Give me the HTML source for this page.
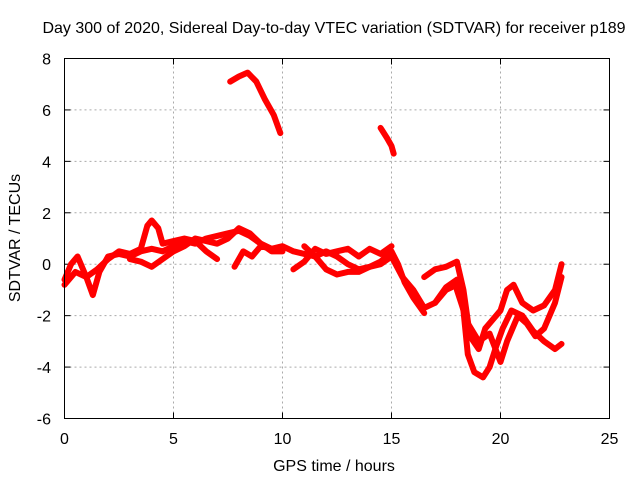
<!DOCTYPE html>
<html><head><meta charset="utf-8"><style>
body{margin:0;background:#fff;}
svg{display:block;font-family:"Liberation Sans",sans-serif;}
</style></head><body>
<svg id="chart" width="640" height="480">
<text x="334" y="33" font-size="16" text-anchor="middle">Day 300 of 2020, Sidereal Day-to-day VTEC variation (SDTVAR) for receiver p189</text>
<text x="334" y="471" font-size="16" text-anchor="middle">GPS time / hours</text>
<text transform="translate(20,238) rotate(-90)" font-size="16" text-anchor="middle">SDTVAR / TECUs</text>
<g id="grid"></g><g id="ticks"></g><g id="series"></g>
<rect x="64.5" y="58.5" width="545" height="360" fill="none" stroke="#000"/>
</svg>
<script>
const xTicks=[0,5,10,15,20,25];
const yTicks=[-6,-4,-2,0,2,4,6,8];
const trackA=[[0,-0.6],[0.3,0],[0.6,0.3],[1,-0.5],[1.3,-1.2],[1.6,-0.3],[2,0.3],[2.5,0.4],[3,0.3],[3.5,0.5],[4,0.6],[4.5,0.5],[5,0.7],[5.5,0.9],[6,0.8],[6.5,1.0],[7,1.1],[7.5,1.2],[8,1.3],[8.5,1.1],[9,0.8],[9.5,0.6],[10,0.6]];
const trackB=[[0,-0.8],[0.5,-0.3],[1,-0.5],[1.5,-0.2],[2,0.2],[2.5,0.5],[3,0.4],[3.5,0.6],[3.8,1.5],[4,1.7],[4.3,1.4],[4.5,0.8],[5,0.9],[5.5,1.0],[6,0.9],[6.5,0.5],[7,0.2]];
const trackC=[[3,0.2],[3.5,0.1],[4,-0.1],[4.5,0.2],[5,0.5],[5.5,0.7],[6,1.0],[6.5,0.9],[7,0.8],[7.5,1.0],[8,1.4],[8.5,1.2],[9,0.8],[9.5,0.5],[10,0.5]];
const trackD=[[7.8,-0.1],[8.2,0.5],[8.6,0.3],[9,0.7],[9.5,0.6],[10,0.7],[10.5,0.5],[11,0.4],[11.5,0.3],[12,0.5],[12.5,0.3],[13,0.0],[13.5,-0.2],[14,-0.1],[14.5,0.1],[15,0.5],[15.3,0.0],[15.6,-0.7],[16,-1.3],[16.5,-1.9]];
const trackE=[[10.5,-0.2],[11,0.1],[11.5,0.6],[12,0.4],[12.5,0.5],[13,0.6],[13.5,0.3],[14,0.6],[14.5,0.4],[15,0.7]];
const trackF=[[11,0.7],[11.5,0.3],[12,-0.2],[12.5,-0.4],[13,-0.3],[13.5,-0.3],[14,-0.1],[14.5,0.0],[15,0.3],[15.5,-0.5],[16,-1.0],[16.5,-1.7],[17,-1.5],[17.5,-1.0],[18,-0.8]];
const trackG=[[16.5,-0.5],[17,-0.2],[17.5,-0.1],[18,0.1],[18.3,-1.0],[18.6,-2.8],[19,-3.3],[19.3,-2.5],[19.6,-2.2],[20,-1.8],[20.3,-1.0],[20.6,-0.8],[21,-1.5],[21.5,-1.8],[22,-1.6],[22.5,-1.0],[22.8,0]];
const trackH=[[17,-1.5],[17.5,-0.9],[18,-0.6],[18.3,-1.8],[18.5,-3.5],[18.8,-4.2],[19.2,-4.4],[19.5,-4.0],[19.8,-3.2],[20.1,-2.5],[20.5,-1.8],[21,-2.0],[21.5,-2.6],[22,-3.0],[22.5,-3.3],[22.8,-3.1]];
const trackI=[[18,-1.0],[18.5,-2.3],[19,-3.0],[19.5,-2.7],[20,-3.8],[20.3,-3.0],[20.8,-2.0],[21.2,-2.3],[21.6,-2.8],[22,-2.5],[22.5,-1.5],[22.8,-0.5]];
const trackJ=[[7.6,7.1],[8,7.3],[8.4,7.45],[8.8,7.1],[9.2,6.4],[9.6,5.8],[9.9,5.1]];
const trackK=[[14.5,5.3],[14.8,4.9],[15,4.6],[15.1,4.3]];
const tracks=[trackA,trackB,trackC,trackD,trackE,trackF,trackG,trackH,trackI,trackJ,trackK];
const X0=64.5,X1=609.5,Y0=418.5,Y1=58.5;
const xs=v=>X0+(v-0)/(25-0)*(X1-X0);
const ys=v=>Y0-(v+6)/14*(Y0-Y1);
const NS='http://www.w3.org/2000/svg';
const grid=document.getElementById('grid'),ticks=document.getElementById('ticks'),ser=document.getElementById('series');
function mk(tag,attrs,parent){const e=document.createElementNS(NS,tag);for(const k in attrs)e.setAttribute(k,attrs[k]);parent.appendChild(e);return e;}
xTicks.forEach(t=>{const x=xs(t);
 if(t>0&&t<25){const g=mk('line',{x1:x,x2:x,y1:Y0,y2:Y1,stroke:'#aaa','stroke-dasharray':'2,3'},grid);
 
 }
 mk('line',{x1:x,x2:x,y1:Y0,y2:Y0-6,stroke:'#000'},ticks);mk('line',{x1:x,x2:x,y1:Y1,y2:Y1+6,stroke:'#000'},ticks);
 const l=mk('text',{x:x,y:444,'font-size':16,'text-anchor':'middle'},ticks);l.textContent=t;
 
 });
yTicks.forEach(t=>{const y=ys(t);
 if(t>-6&&t<8){const g=mk('line',{x1:X0,x2:X1,y1:y,y2:y,stroke:'#aaa','stroke-dasharray':'2,3'},grid);
 
 }
 mk('line',{x1:X0,x2:X0+6,y1:y,y2:y,stroke:'#000'},ticks);mk('line',{x1:X1,x2:X1-6,y1:y,y2:y,stroke:'#000'},ticks);
 const l=mk('text',{x:51,y:y+6,'font-size':16,'text-anchor':'end'},ticks);l.textContent=t;
 
 });
tracks.forEach(tr=>{const p=mk('polyline',{points:tr.map(d=>xs(d[0])+','+ys(d[1])).join(' '),fill:'none',stroke:'#f00','stroke-width':6,'stroke-linejoin':'round','stroke-linecap':'round'},ser);
 
 });
</script>
</body></html>
